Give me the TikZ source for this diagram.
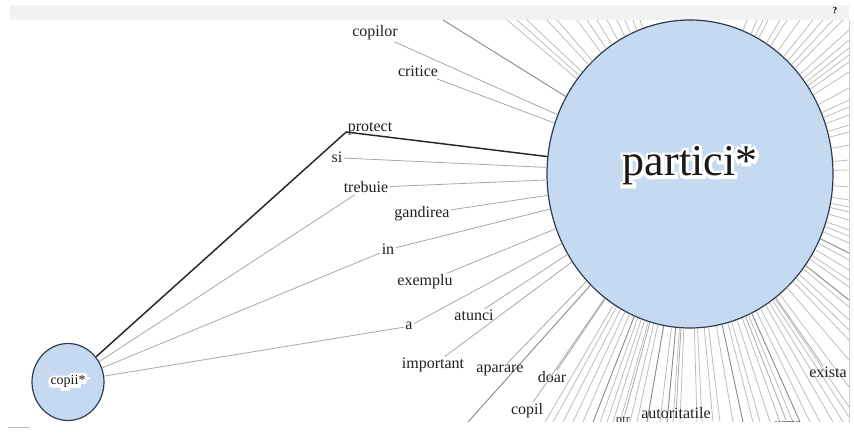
\documentclass[tikz,border=0pt]{standalone}
\usepackage{fontspec}
\setmainfont{Liberation Serif}
\newfontfamily\halofont[FakeBold=14]{Liberation Serif}
\newfontfamily\halofontsmall[FakeBold=40]{Liberation Serif}
\usetikzlibrary{shapes.geometric}
\definecolor{bub}{RGB}{197,217,240}
\definecolor{edge}{RGB}{45,60,78}
\definecolor{barc}{RGB}{242,242,242}
\begin{document}
\begin{tikzpicture}[x=0.75pt,y=-0.75pt,
  word/.style={font=\fontsize{12}{14}\selectfont, inner sep=1pt, anchor=base, text=black!88},
  tinyword/.style={font=\fontsize{9.5}{11}\selectfont, inner sep=1pt, anchor=base, text=black!80},
  link/.style={draw=black!34, line width=0.6pt},
  ray/.style={draw=black!26, line width=0.6pt},
  raydk/.style={draw=black!45, line width=0.7pt},
  bigword/.style={font=\fontsize{33}{36}\selectfont, anchor=base, inner sep=0pt},
  bighalo/.style={font=\halofont\fontsize{33}{36}\selectfont, anchor=base, inner sep=0pt, text=white},
  smallword/.style={font=\fontsize{10.5}{12}\selectfont, anchor=base, inner sep=0pt},
  smallhalo/.style={font=\halofontsmall\fontsize{10.5}{12}\selectfont, anchor=base, inner sep=0pt, text=white},
  bubble/.style={shape=ellipse, draw=edge, fill=bub, line width=0.9pt, inner sep=0pt}]
\useasboundingbox (0,0) rectangle (854,434);
\fill[barc] (10,5) rectangle (849,20);
\node[font=\bfseries\fontsize{7}{8}\selectfont, inner sep=0pt] (qmark) at (835,10) {?};
\draw[black!20, line width=0.6pt] (849,20) -- (849,423);
\draw[black!25, line width=0.5pt] (8,427) -- (30,427);
\begin{scope}
\clip (10,20) rectangle (849,422);
% bubbles
\node[bubble, minimum width=214.5pt, minimum height=231pt] (partici) at (690,174) {};
\node[bubble, minimum width=54pt, minimum height=57.75pt] (copii) at (68,382) {};
% rays to words outside the view
\foreach \x/\s [count=\i] in {443/raydk,507/ray,517/ray,527/ray,547/ray,557/ray,577/ray,587/ray,597/ray,607/ray,617/ray,625/ray,633/ray,640/ray,747/ray,757/ray,763/ray,768/ray,780/ray,787/ray,800/ray,813/ray,823/ray,833/ray,843/ray}
  {\coordinate (t\i) at (\x,20); \draw[\s] (partici) -- (t\i);}
\foreach \y/\s [count=\i] in {30/ray,40/ray,48/ray,55/ray,62/ray,72/ray,88/ray,100/ray,107/ray,115/ray,125/ray,132/ray,145/ray,160/ray,170/ray,187/ray,200/ray,207/ray,212/ray,220/ray,230/ray,236/ray,243/ray,253/raydk,260/ray,270/ray,280/ray,287/ray,300/raydk,307/ray,320/ray,330/ray,340/ray,360/ray,387/ray,407/ray,417/ray}
  {\coordinate (r\i) at (849,\y); \draw[\s] (partici) -- (r\i);}
\foreach \x/\s [count=\i] in {468/raydk,545/ray,553/ray,563/ray,573/ray,583/ray,593/raydk,600/ray,607/ray,613/ray,620/ray,630/ray,637/ray,647/raydk,660/ray,667/raydk,673/ray,680/ray,697/ray,702/ray,713/ray,720/ray,733/ray,743/raydk,753/ray,760/ray,770/ray,780/ray,793/ray,800/raydk,810/ray,820/ray,833/ray,843/ray}
  {\coordinate (b\i) at (\x,422); \draw[\s] (partici) -- (b\i);}
% words
\node[word] (copilor) at (375,37) {copilor};
\node[word] (critice) at (418,77) {critice};
\node[word] (protect) at (370,132) {protect};
\node[word] (si) at (337,163) {si};
\node[word] (trebuie) at (366,193) {trebuie};
\node[word] (gandirea) at (422,218) {gandirea};
\node[word] (in) at (388,255) {in};
\node[word] (exemplu) at (425,286) {exemplu};
\node[word] (a) at (409,330) {a};
\node[word] (atunci) at (474,321) {atunci};
\node[word] (important) at (433,369) {important};
\node[word] (aparare) at (500,373) {aparare};
\node[word] (doar) at (552,383) {doar};
\node[word] (copil) at (527,415) {copil};
\node[tinyword] (ptr) at (623,424) {ptr};
\node[word] (autoritatile) at (676,419) {autoritatile};
\node[tinyword] (urma) at (788,428) {urma};
\node[word] (exista) at (828,378) {exista};
% links to partici*
\foreach \w in {copilor,critice,si,trebuie,gandirea,in,exemplu,a,atunci,important,aparare,doar,copil,ptr,autoritatile,urma,exista}
  {\draw[link] (\w) -- (partici);}
% links from copii*
\foreach \w in {trebuie,in,a}
  {\draw[link] (copii) -- (\w);}
\draw[black!85, line width=1.1pt] (copii) -- (protect.base west) -- (partici);
% bubble labels with a white halo
\node[bighalo] (particiHalo) at (690,176) {partici*};
\node[bigword, text=black!90] (particiText) at (690,176) {partici*};
\node[smallhalo] (copiiHalo) at (68,385) {copii*};
\node[smallword, text=black!90] (copiiText) at (68,385) {copii*};
\end{scope}
\end{tikzpicture}
\end{document}
